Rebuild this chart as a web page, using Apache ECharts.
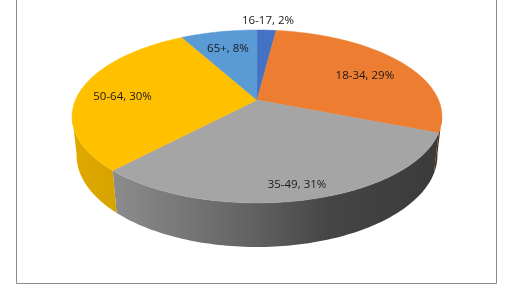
<!DOCTYPE html>
<html><head><meta charset="utf-8">
<script src="https://cdn.jsdelivr.net/npm/echarts@6/dist/echarts.min.js"></script>
<style>html,body{margin:0;padding:0;background:#fff}#c{width:518px;height:295px}</style>
</head><body><div id="c"></div>
<script>
// ---- data ----
const categories = ['16-17', '18-34', '35-49', '50-64', '65+'];
const values = [2, 29, 31, 30, 8];
const colors = ['#4472C4', '#ED7D31', '#A5A5A5', '#FFC000', '#5B9BD5'];

// ---- 3D perspective pie layout ----
const CX = 257, CY = 100, F = 846, D = 4.66, SA = 0.459, CA = 0.888, H = 0.243;
const WALL_MIN = 100 * Math.PI / 180, WALL_MAX = 260 * Math.PI / 180;
const labelR = [1.18, 0.74, 0.85, 0.76, 0.73];
const labelDy = [1, 5, 3, 4.5, 1];
const total = values.reduce((a, b) => a + b, 0);

function proj(theta, r, z) {
  const X = r * Math.sin(theta), Y = r * Math.cos(theta);
  const depth = D + Y * CA - z * SA;
  const up = Y * SA + z * CA;
  return [CX + F * X / depth, CY - F * up / depth];
}
function shade(hex, f) {
  const n = parseInt(hex.slice(1), 16);
  const r = Math.round(((n >> 16) & 255) * f), g = Math.round(((n >> 8) & 255) * f), b = Math.round((n & 255) * f);
  return 'rgb(' + r + ',' + g + ',' + b + ')';
}
const shadeT = [0, 0.11, 0.3, 0.5, 0.7, 1];
const shadeF = [0.88, 0.85, 0.72, 0.58, 0.42, 0.35];
function wallFill(hex) {
  return new echarts.graphic.LinearGradient(72, 0, 442, 0,
    shadeT.map((t, k) => ({ offset: t, color: shade(hex, shadeF[k]) })), true);
}

let acc = 0;
const seriesData = values.map((v, i) => { const d = [acc, v, i]; acc += v; return d; });

function renderItem(params, api) {
  const i = params.dataIndex;
  const start = api.value(0), val = api.value(1);
  const a0 = start / total * 2 * Math.PI, a1 = (start + val) / total * 2 * Math.PI;
  const children = [];
  const w0 = Math.max(a0, WALL_MIN), w1 = Math.min(a1, WALL_MAX);
  if (w1 > w0) {
    const n = Math.max(2, Math.ceil((w1 - w0) / 0.02));
    const pts = [];
    for (let k = 0; k <= n; k++) pts.push(proj(w0 + (w1 - w0) * k / n, 1, 0));
    for (let k = n; k >= 0; k--) pts.push(proj(w0 + (w1 - w0) * k / n, 1, -H));
    children.push({ type: 'polygon', shape: { points: pts }, z2: 0,
      style: { fill: wallFill(colors[i]), stroke: null } });
  }
  const n2 = Math.max(2, Math.ceil((a1 - a0) / 0.02));
  const top = [proj(0, 0, 0)];
  for (let k = 0; k <= n2; k++) top.push(proj(a0 + (a1 - a0) * k / n2, 1, 0));
  children.push({ type: 'polygon', shape: { points: top }, z2: 10,
    style: { fill: colors[i], stroke: colors[i], lineWidth: 0.5 } });
  const mid = (a0 + a1) / 2;
  const lp = proj(mid, labelR[i], 0);
  children.push({ type: 'text', x: lp[0], y: lp[1] + labelDy[i], z2: 20,
    style: { text: categories[i] + ', ' + val + '%', fill: '#1a1a1a',
      font: '11.5px "Open Sans", sans-serif', align: 'center', verticalAlign: 'middle' } });
  return { type: 'group', children };
}

const chart = echarts.init(document.getElementById('c'), null, { renderer: 'canvas' });
chart.setOption({
  animation: false,
  backgroundColor: '#ffffff',
  graphic: [{ type: 'rect', shape: { x: 16.5, y: -10, width: 480, height: 293.5 },
    style: { fill: null, stroke: '#8c8c8c', lineWidth: 1 }, z: 0 }],
  series: [{ type: 'custom', coordinateSystem: 'none', renderItem, data: seriesData, z: 2 }]
});
</script>
</body></html>
